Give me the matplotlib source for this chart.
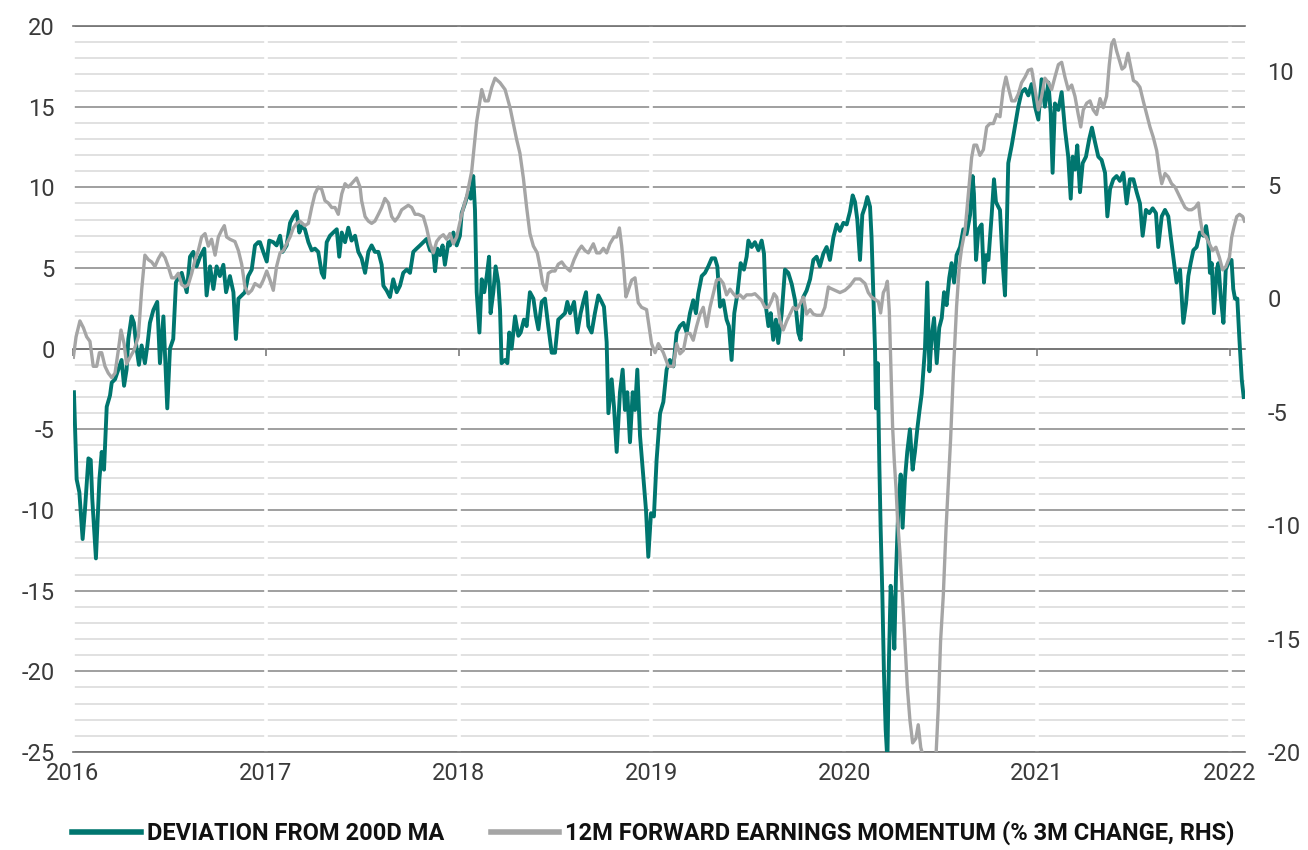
import numpy as np
import matplotlib
matplotlib.use("Agg")
import matplotlib.pyplot as plt

plt.rcParams['font.family'] = ['Roboto', 'DejaVu Sans']
plt.rcParams['axes.unicode_minus'] = False

# deviation of index from its 200-day moving average, % (left axis)
dev = [
    (2016.005, -2.7), (2016.010, -4.6), (2016.019, -8.1), (2016.033, -8.9), (2016.050, -11.8),
    (2016.062, -10.0), (2016.080, -6.8), (2016.092, -6.9), (2016.100, -9.3), (2016.119, -13.0),
    (2016.137, -8.1), (2016.149, -6.4), (2016.161, -7.5), (2016.175, -3.6), (2016.192, -2.9),
    (2016.201, -2.1), (2016.218, -1.9), (2016.235, -1.3), (2016.252, -0.7), (2016.265, -2.3),
    (2016.278, -1.3), (2016.287, 0.6), (2016.304, 2.0), (2016.316, 1.6), (2016.330, 0.0),
    (2016.342, -1.0), (2016.356, 0.2), (2016.373, -0.9), (2016.386, 0.2), (2016.399, 1.6),
    (2016.417, 2.4), (2016.437, 2.9), (2016.451, -0.9), (2016.469, 2.0), (2016.489, -3.7),
    (2016.503, 0.0), (2016.520, 0.6), (2016.534, 4.1), (2016.546, 4.4), (2016.564, 4.7),
    (2016.590, 3.5), (2016.607, 5.7), (2016.624, 6.0), (2016.641, 5.1), (2016.659, 5.7),
    (2016.681, 6.2), (2016.693, 3.3), (2016.711, 5.1), (2016.728, 3.7), (2016.745, 5.1),
    (2016.762, 4.5), (2016.780, 5.2), (2016.794, 3.5), (2016.814, 4.5), (2016.832, 3.5),
    (2016.845, 0.6), (2016.858, 3.1), (2016.875, 3.3), (2016.892, 3.5), (2016.909, 4.5),
    (2016.927, 4.9), (2016.944, 6.4), (2016.961, 6.6),
    (2016.970, 6.6), (2016.987, 6.0), (2017.005, 5.4), (2017.018, 6.7), (2017.039, 6.6),
    (2017.056, 6.4), (2017.074, 7.0), (2017.087, 6.0), (2017.108, 6.4), (2017.126, 7.8),
    (2017.143, 8.2), (2017.160, 8.5), (2017.174, 7.2), (2017.186, 7.6), (2017.203, 7.4),
    (2017.221, 6.6), (2017.238, 6.1), (2017.255, 6.2), (2017.272, 6.0), (2017.290, 4.7),
    (2017.302, 4.4), (2017.316, 6.6), (2017.333, 7.0), (2017.350, 7.2), (2017.368, 7.4),
    (2017.381, 5.7), (2017.394, 7.2), (2017.411, 6.6), (2017.428, 7.5), (2017.445, 6.7),
    (2017.463, 7.0), (2017.480, 6.0), (2017.497, 5.6), (2017.515, 4.7), (2017.532, 6.0),
    (2017.549, 6.4), (2017.566, 6.0), (2017.584, 6.0), (2017.601, 5.2), (2017.610, 3.9),
    (2017.627, 3.6), (2017.644, 3.2), (2017.661, 4.3), (2017.679, 3.5), (2017.696, 3.9),
    (2017.713, 4.7), (2017.731, 4.9), (2017.748, 4.7), (2017.765, 6.0), (2017.782, 6.2),
    (2017.800, 6.4), (2017.817, 6.6), (2017.834, 6.8), (2017.852, 6.1), (2017.869, 6.0),
    (2017.878, 4.8), (2017.890, 6.2), (2017.904, 5.8), (2017.917, 6.4), (2017.929, 5.2),
    (2017.947, 6.6),
    (2017.955, 6.4), (2017.973, 7.2), (2017.990, 6.4), (2018.007, 7.0), (2018.016, 8.4),
    (2018.033, 9.0), (2018.051, 9.7), (2018.063, 9.3), (2018.076, 10.7), (2018.085, 8.6),
    (2018.094, 3.5), (2018.108, 1.0), (2018.120, 4.3), (2018.133, 3.5), (2018.146, 4.5),
    (2018.158, 5.7), (2018.166, 2.2), (2018.180, 3.5), (2018.192, 5.1), (2018.206, 4.1),
    (2018.215, 2.4), (2018.223, -0.9), (2018.241, -0.7), (2018.253, -0.9), (2018.263, 1.0),
    (2018.275, 0.0), (2018.293, 2.0), (2018.310, 0.8), (2018.322, 1.0), (2018.339, 1.8),
    (2018.353, 1.4), (2018.370, 3.5), (2018.388, 3.1), (2018.401, 2.0), (2018.414, 1.2),
    (2018.431, 2.9), (2018.448, 3.1), (2018.465, 1.4), (2018.483, -0.25), (2018.500, -0.25),
    (2018.517, 1.8), (2018.535, 2.0), (2018.552, 2.2), (2018.564, 2.9), (2018.578, 2.2),
    (2018.599, 2.9), (2018.616, 1.0), (2018.633, 2.2), (2018.647, 2.9), (2018.661, 3.5),
    (2018.673, 1.4), (2018.690, 1.0), (2018.707, 2.2), (2018.725, 3.3), (2018.742, 2.9),
    (2018.754, 2.6), (2018.768, 0.4), (2018.777, -4.0), (2018.794, -1.9), (2018.806, -3.6),
    (2018.820, -6.4), (2018.837, -2.7), (2018.851, -1.3), (2018.863, -3.8), (2018.875, -2.7),
    (2018.889, -5.8), (2018.903, -2.7), (2018.915, -3.8), (2018.927, -1.3), (2018.941, -5.4),
    (2018.958, -7.9), (2018.972, -10.0), (2018.984, -12.9), (2018.998, -10.2), (2019.013, -10.4),
    (2019.027, -6.9), (2019.045, -4.0), (2019.062, -3.3), (2019.079, -1.3), (2019.096, -0.7),
    (2019.114, -1.1), (2019.131, 1.0), (2019.148, 1.4), (2019.166, 1.6), (2019.183, 1.0),
    (2019.200, 2.2), (2019.217, 3.0), (2019.231, 2.2), (2019.243, 3.4), (2019.261, 4.5),
    (2019.278, 4.7), (2019.295, 5.1), (2019.313, 5.6), (2019.330, 5.6), (2019.342, 5.1),
    (2019.356, 2.6), (2019.373, 3.0), (2019.390, 1.8), (2019.402, 1.4), (2019.416, -0.7),
    (2019.430, 2.2), (2019.446, 3.4), (2019.463, 5.3), (2019.480, 4.9), (2019.494, 5.7),
    (2019.503, 6.7), (2019.520, 6.3), (2019.537, 6.6), (2019.555, 6.1), (2019.572, 6.7),
    (2019.584, 5.9), (2019.594, 2.6), (2019.607, 1.4), (2019.619, 2.2), (2019.632, 0.55),
    (2019.646, 1.8), (2019.658, 0.35), (2019.676, 2.2), (2019.693, 4.9), (2019.710, 4.7),
    (2019.728, 4.0), (2019.745, 3.0), (2019.762, 1.0), (2019.774, 0.55), (2019.788, 3.2),
    (2019.805, 3.6), (2019.823, 4.3), (2019.840, 5.5), (2019.857, 5.7), (2019.874, 5.1),
    (2019.892, 5.9), (2019.909, 6.3),
    (2019.926, 5.5), (2019.944, 6.9), (2019.961, 7.7), (2019.978, 7.3), (2019.996, 7.8),
    (2020.013, 7.7), (2020.030, 8.5), (2020.044, 9.5), (2020.056, 9.1), (2020.068, 8.0),
    (2020.082, 5.5), (2020.094, 8.3), (2020.108, 8.8), (2020.120, 9.4), (2020.134, 8.8),
    (2020.142, 6.9), (2020.151, 3.5), (2020.160, -0.05), (2020.165, -3.7), (2020.174, -0.9),
    (2020.182, -7.0), (2020.189, -11.1), (2020.198, -15.3), (2020.206, -20.0), (2020.215, -23.6),
    (2020.224, -25.5), (2020.232, -19.4), (2020.241, -14.7), (2020.251, -16.1), (2020.260, -18.6),
    (2020.269, -13.9), (2020.281, -9.75), (2020.293, -7.8), (2020.303, -11.1), (2020.315, -8.1),
    (2020.327, -6.4), (2020.341, -5.0), (2020.355, -7.5), (2020.367, -6.4), (2020.379, -5.0),
    (2020.390, -3.9), (2020.402, -2.8), (2020.419, 0.0), (2020.431, 4.1), (2020.442, -1.4),
    (2020.454, 0.8), (2020.466, 1.9), (2020.480, -0.9), (2020.493, 1.3), (2020.506, 1.9),
    (2020.518, 3.5), (2020.531, 2.7), (2020.545, 4.4), (2020.557, 5.3), (2020.570, 4.1),
    (2020.583, 5.8), (2020.601, 6.3), (2020.618, 7.4), (2020.635, 7.1), (2020.653, 8.3),
    (2020.666, 10.7), (2020.673, 9.6), (2020.684, 5.5), (2020.696, 7.4), (2020.713, 7.7),
    (2020.725, 4.1), (2020.736, 5.8), (2020.748, 5.5), (2020.765, 8.3), (2020.777, 10.5),
    (2020.787, 9.1), (2020.799, 8.8),
    (2020.808, 8.6), (2020.822, 5.3), (2020.834, 3.3), (2020.843, 7.4), (2020.851, 11.5),
    (2020.869, 12.6), (2020.886, 13.8), (2020.903, 15.0), (2020.920, 15.9), (2020.938, 16.1),
    (2020.955, 15.7), (2020.972, 16.4), (2020.990, 15.0), (2021.007, 14.2), (2021.024, 16.7),
    (2021.041, 15.0), (2021.059, 16.5), (2021.071, 14.6), (2021.081, 10.9), (2021.093, 15.2),
    (2021.111, 14.8), (2021.128, 15.9), (2021.145, 13.6), (2021.162, 11.9), (2021.175, 9.3),
    (2021.185, 11.9), (2021.197, 11.1), (2021.209, 12.6), (2021.223, 9.7), (2021.237, 11.5),
    (2021.254, 11.9), (2021.271, 13.0), (2021.285, 13.7), (2021.301, 12.8), (2021.318, 11.9),
    (2021.335, 11.7), (2021.353, 10.9), (2021.365, 8.2), (2021.379, 9.9), (2021.396, 10.5),
    (2021.413, 10.7), (2021.430, 10.4), (2021.448, 10.9), (2021.465, 9.0), (2021.482, 10.5),
    (2021.500, 10.5), (2021.517, 9.7), (2021.534, 9.0), (2021.548, 7.0), (2021.565, 8.6),
    (2021.583, 8.4), (2021.600, 8.7), (2021.617, 8.4), (2021.629, 6.3), (2021.647, 8.2),
    (2021.664, 8.6), (2021.681, 8.2), (2021.693, 7.0), (2021.711, 5.3), (2021.724, 4.1),
    (2021.742, 4.9), (2021.759, 1.6), (2021.773, 2.8), (2021.785, 4.5), (2021.797, 5.3),
    (2021.811, 6.1), (2021.828, 6.3), (2021.845, 7.2), (2021.863, 7.0), (2021.877, 7.6),
    (2021.889, 6.6), (2021.897, 4.7), (2021.906, 5.3), (2021.918, 2.2), (2021.932, 4.9),
    (2021.941, 5.3), (2021.953, 3.2), (2021.967, 1.6), (2021.979, 4.9), (2021.992, 5.3),
    (2022.009, 5.5), (2022.018, 3.7), (2022.027, 3.1), (2022.039, 3.1), (2022.050, 0.55),
    (2022.062, -1.9), (2022.072, -3.0),
]

# 12m forward earnings momentum, % 3m change (right axis)
eps = [
    (2016.002, -2.6), (2016.016, -1.7), (2016.036, -1.0), (2016.054, -1.3), (2016.071, -1.7),
    (2016.088, -1.9), (2016.105, -3.0), (2016.123, -3.0), (2016.137, -2.4), (2016.149, -2.4),
    (2016.166, -3.0), (2016.183, -3.3), (2016.201, -3.5), (2016.218, -3.3), (2016.235, -2.3),
    (2016.249, -1.4), (2016.265, -2.0), (2016.278, -2.9), (2016.296, -2.6), (2016.316, -2.3),
    (2016.339, -1.7), (2016.356, 0.35), (2016.373, 1.9), (2016.391, 1.7), (2016.408, 1.6),
    (2016.425, 1.4), (2016.443, 1.75), (2016.460, 2.0), (2016.477, 1.8), (2016.494, 1.4),
    (2016.512, 0.9), (2016.529, 0.9), (2016.546, 1.1), (2016.564, 0.6), (2016.581, 0.5),
    (2016.598, 0.6), (2016.616, 1.1), (2016.633, 1.7), (2016.650, 2.1), (2016.667, 2.7),
    (2016.685, 2.85), (2016.702, 2.3), (2016.719, 2.6), (2016.737, 1.9), (2016.754, 2.7),
    (2016.771, 3.0), (2016.785, 3.2), (2016.797, 2.7), (2016.814, 2.6), (2016.840, 2.5),
    (2016.858, 2.1), (2016.875, 1.5), (2016.892, 0.5), (2016.909, 0.2), (2016.927, 0.35),
    (2016.944, 0.65),
    (2016.970, 0.5), (2016.987, 0.8), (2017.005, 1.2), (2017.022, 0.8), (2017.039, 0.35),
    (2017.056, 1.4), (2017.074, 2.0), (2017.091, 2.1), (2017.108, 2.4), (2017.126, 2.7),
    (2017.143, 3.1), (2017.160, 3.3), (2017.177, 3.4), (2017.203, 3.2), (2017.221, 3.3),
    (2017.238, 4.0), (2017.255, 4.6), (2017.272, 4.9), (2017.290, 4.8), (2017.307, 4.3),
    (2017.324, 4.2), (2017.342, 4.0), (2017.359, 4.0), (2017.376, 3.7), (2017.394, 4.6),
    (2017.411, 5.05), (2017.428, 4.9), (2017.445, 5.05), (2017.471, 5.3), (2017.489, 4.9),
    (2017.497, 4.3), (2017.515, 3.6), (2017.532, 3.4), (2017.549, 3.3), (2017.566, 3.4),
    (2017.584, 3.7), (2017.601, 4.0), (2017.618, 4.4), (2017.636, 4.2), (2017.653, 3.6),
    (2017.670, 3.4), (2017.688, 3.6), (2017.705, 3.9), (2017.722, 4.0), (2017.739, 4.1),
    (2017.757, 4.0), (2017.774, 3.7), (2017.791, 3.7), (2017.817, 3.6), (2017.834, 3.1),
    (2017.852, 2.4), (2017.869, 2.0), (2017.886, 2.5), (2017.904, 2.7), (2017.921, 2.8),
    (2017.938, 2.6),
    (2017.955, 2.85), (2017.973, 2.4), (2017.990, 2.7), (2018.016, 3.7), (2018.042, 4.5),
    (2018.068, 5.6), (2018.094, 7.8), (2018.120, 9.2), (2018.137, 8.7), (2018.154, 8.7),
    (2018.172, 9.3), (2018.189, 9.7), (2018.215, 9.5), (2018.241, 9.2), (2018.267, 8.4),
    (2018.284, 7.7), (2018.301, 7.0), (2018.318, 6.4), (2018.336, 5.3), (2018.353, 4.0),
    (2018.370, 2.85), (2018.388, 2.3), (2018.408, 2.0), (2018.422, 1.4), (2018.436, 0.65),
    (2018.453, 0.35), (2018.465, 1.1), (2018.483, 1.2), (2018.500, 1.2), (2018.517, 1.5),
    (2018.535, 1.6), (2018.552, 1.4), (2018.578, 1.2), (2018.599, 1.7), (2018.621, 2.1),
    (2018.638, 2.3), (2018.656, 2.1), (2018.673, 2.0), (2018.699, 2.4), (2018.716, 2.0),
    (2018.733, 2.0), (2018.751, 2.2), (2018.768, 2.0), (2018.785, 2.4), (2018.806, 2.7),
    (2018.820, 2.7), (2018.834, 3.1), (2018.846, 2.3), (2018.858, 1.2), (2018.868, 0.06),
    (2018.880, 0.35), (2018.898, 0.8), (2018.915, 0.9), (2018.932, -0.2), (2018.949, -0.4),
    (2018.975, -0.5), (2019.001, -2.0), (2019.019, -2.4), (2019.036, -2.0), (2019.062, -2.4),
    (2019.088, -3.0),
    (2019.114, -3.0), (2019.131, -2.0), (2019.148, -2.45), (2019.166, -2.3), (2019.183, -1.55),
    (2019.200, -1.55), (2019.217, -1.85), (2019.234, -1.25), (2019.252, -0.7), (2019.269, -0.4),
    (2019.287, -1.25), (2019.304, -0.4), (2019.321, 0.2), (2019.338, 0.8), (2019.356, 0.85),
    (2019.373, 0.65), (2019.390, 0.15), (2019.408, 0.4), (2019.425, 0.2), (2019.442, 0.05),
    (2019.459, 0.15), (2019.477, 0.0), (2019.494, 0.15), (2019.520, 0.15), (2019.537, 0.2),
    (2019.555, 0.05), (2019.572, -0.1), (2019.589, -0.4), (2019.607, -0.4), (2019.624, -0.1),
    (2019.636, 0.2), (2019.650, 0.05), (2019.667, -1.0), (2019.684, -1.4), (2019.702, -1.0),
    (2019.719, -0.7), (2019.736, -0.4), (2019.753, -0.5), (2019.771, -0.25), (2019.788, 0.05),
    (2019.805, -0.7), (2019.823, -0.5), (2019.840, -0.7), (2019.857, -0.75), (2019.883, -0.75),
    (2019.900, -0.4), (2019.918, 0.5),
    (2019.926, 0.45), (2019.952, 0.35), (2019.978, 0.25), (2020.004, 0.35), (2020.030, 0.55),
    (2020.056, 0.85), (2020.082, 0.85), (2020.108, 0.65), (2020.125, 0.25), (2020.142, 0.05),
    (2020.160, -0.05), (2020.177, -0.15), (2020.189, -0.65), (2020.203, 0.25), (2020.215, 0.45),
    (2020.224, 0.75), (2020.234, -0.55), (2020.243, -3.3), (2020.251, -5.65), (2020.260, -7.2),
    (2020.269, -8.4), (2020.277, -9.8), (2020.289, -11.2), (2020.302, -13.1), (2020.315, -15.1),
    (2020.327, -17.1), (2020.341, -18.6), (2020.355, -19.6), (2020.372, -19.4), (2020.384, -18.8),
    (2020.397, -19.8), (2020.410, -20.2), (2020.443, -20.2), (2020.476, -20.2), (2020.488, -18.05),
    (2020.500, -15.1), (2020.514, -13.1), (2020.528, -10.2), (2020.540, -8.2), (2020.552, -6.2),
    (2020.566, -3.3), (2020.583, -0.35), (2020.597, 1.4), (2020.609, 2.2), (2020.627, 3.0),
    (2020.644, 4.6), (2020.661, 6.2), (2020.673, 6.75), (2020.687, 6.75), (2020.704, 6.3),
    (2020.722, 6.55), (2020.739, 7.55), (2020.756, 7.7), (2020.774, 7.7), (2020.791, 8.1),
    (2020.808, 8.0), (2020.825, 9.2), (2020.839, 9.75), (2020.851, 9.3), (2020.869, 8.7),
    (2020.886, 8.7), (2020.903, 9.0), (2020.920, 9.5), (2020.938, 9.75), (2020.955, 10.05),
    (2020.972, 10.1), (2020.990, 9.2), (2021.007, 8.3), (2021.024, 8.9), (2021.041, 9.7),
    (2021.059, 9.5), (2021.076, 9.2), (2021.093, 9.75), (2021.111, 10.3), (2021.128, 10.4),
    (2021.145, 9.75), (2021.162, 9.2), (2021.180, 9.4), (2021.197, 8.9), (2021.214, 8.1),
    (2021.227, 7.55), (2021.240, 8.3), (2021.258, 8.6), (2021.275, 8.7), (2021.292, 8.3),
    (2021.309, 8.1), (2021.327, 8.8), (2021.344, 8.4), (2021.361, 8.9), (2021.375, 10.3),
    (2021.387, 11.2), (2021.399, 11.4), (2021.413, 10.9), (2021.427, 10.5), (2021.441, 10.1),
    (2021.455, 10.2), (2021.472, 10.8), (2021.486, 10.2), (2021.500, 9.6), (2021.517, 9.5),
    (2021.534, 9.3), (2021.551, 8.7), (2021.569, 8.1), (2021.586, 7.55), (2021.603, 7.1),
    (2021.621, 6.5), (2021.635, 5.6), (2021.647, 5.05), (2021.664, 5.5), (2021.681, 5.35),
    (2021.698, 5.05), (2021.716, 4.9), (2021.733, 4.6), (2021.750, 4.3), (2021.768, 4.0),
    (2021.785, 3.9), (2021.802, 3.9), (2021.820, 4.0), (2021.837, 4.2), (2021.845, 3.6),
    (2021.859, 2.85), (2021.877, 2.7), (2021.894, 2.4), (2021.911, 2.1), (2021.928, 2.25),
    (2021.946, 1.8), (2021.963, 1.25), (2021.980, 1.4), (2021.998, 1.8), (2022.010, 2.7),
    (2022.022, 3.15), (2022.036, 3.6), (2022.050, 3.7), (2022.067, 3.6), (2022.076, 3.4),
]

years = [2016, 2017, 2018, 2019, 2020, 2021, 2022]
left_ticks = [-25, -20, -15, -10, -5, 0, 5, 10, 15, 20]
right_ticks = [-20, -15, -10, -5, 0, 5, 10]

dev_t, dev_v = zip(*dev)
eps_t, eps_v = zip(*eps)

teal = '#00766f'
grey = '#a5a5a5'
txt = '#3a3a3a'

fig = plt.figure(figsize=(13.08, 8.5), dpi=100)
ax = fig.add_axes([0.0558, 0.1153, 0.8962, 0.8541])
ax.set_xlim(2016, 2022.08)
ax.set_ylim(-25, 20)

# horizontal grid: minor every 1, major every 5
ax.set_yticks(left_ticks)
ax.set_yticks(np.arange(-24, 20, 1), minor=True)
ax.grid(axis='y', which='minor', color='#d9d9d9', lw=1.1)
ax.grid(axis='y', which='major', color='#858585', lw=1.1)
ax.set_axisbelow(True)
for y in years:
    ax.axvline(y, color='white', lw=2.6, zorder=1)

for s in ['left', 'right']:
    ax.spines[s].set_visible(False)
for s in ['top', 'bottom']:
    ax.spines[s].set_color('#707070')
    ax.spines[s].set_linewidth(1.2)

ax.set_xticks(years)
ax.set_xticklabels([str(y) for y in years])
ax.tick_params(axis='x', length=0, pad=7, labelsize=17, labelcolor=txt)
ax.tick_params(axis='y', which='both', length=0, pad=13, labelsize=17, labelcolor=txt)

# zero line acts as x axis with small ticks pointing down
zero_ax = ax.secondary_xaxis(25 / 45)
zero_ax.set_zorder(1.5)
zero_ax.set_xticks(years)
zero_ax.set_xticklabels([])
zero_ax.tick_params(axis='x', direction='in', length=5, width=1.1, color='#707070')
for s in zero_ax.spines.values():
    s.set_color('#707070')
    s.set_linewidth(1.2)

l1, = ax.plot(dev_t, dev_v, color=teal, lw=2.8, zorder=3, label='DEVIATION FROM 200D MA')

ax2 = ax.twinx()
ax2.set_ylim(-20, 12)
ax2.set_yticks(right_ticks)
ax2.tick_params(axis='y', length=0, pad=16, labelsize=17, labelcolor=txt)
for s in ax2.spines.values():
    s.set_visible(False)
l2, = ax2.plot(eps_t, eps_v, color=grey, lw=2.4, zorder=3,
               label='12M FORWARD EARNINGS MOMENTUM (% 3M CHANGE, RHS)')

leg = fig.legend(handles=[l1, l2], loc='center', bbox_to_anchor=(0.4996, 0.02), ncol=2,
                 frameon=False, handlelength=2.9, columnspacing=2.0, handletextpad=0.25,
                 prop={'weight': 'bold', 'size': 17})
for h in leg.legend_handles:
    h.set_linewidth(4)
for t in leg.get_texts():
    t.set_color('#111111')

fig.savefig('out.png', dpi=100)
